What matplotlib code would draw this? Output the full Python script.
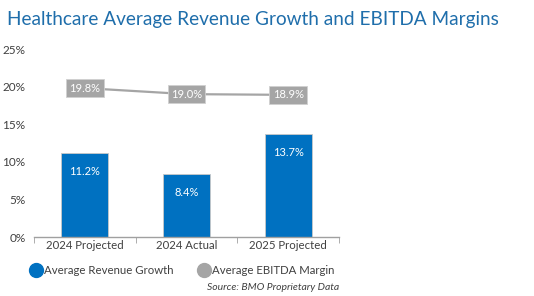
import matplotlib
matplotlib.use("Agg")
import matplotlib.pyplot as plt
from matplotlib.lines import Line2D

categories = ["2024 Projected", "2024 Actual", "2025 Projected"]
revenue_growth = [11.2, 8.4, 13.7]
ebitda_margin = [19.8, 19.0, 18.9]
yticks = [0, 5, 10, 15, 20, 25]

plt.rcParams['font.family'] = ['Lato', 'DejaVu Sans']
BLUE = "#0071c1"
GRAY = "#a5a5a5"
TXT = "#404040"

fig = plt.figure(figsize=(5.34, 2.96), dpi=100)
ax = fig.add_axes([34/534, 1 - 237/296, 305/534, (237-49)/296])

x = list(range(len(categories)))
ax.bar(x, revenue_growth, width=0.46, color=BLUE, edgecolor="#c8c8c8", linewidth=0.6, zorder=2)
ax.plot(x, ebitda_margin, color=GRAY, linewidth=1.6, zorder=3)

for xi, v in zip(x, revenue_growth):
    ax.text(xi, v - 2.5, f"{v:.1f}%", ha="center", va="center", color="white", fontsize=8, zorder=4)
for xi, v in zip(x, ebitda_margin):
    ax.text(xi, v, f"{v:.1f}%", ha="center", va="center", color="white", fontsize=8, zorder=5,
            bbox=dict(boxstyle="square,pad=0.3", fc=GRAY, ec="#d0d0d0", lw=0.6))

ax.set_xlim(-0.5, 2.5)
ax.set_ylim(0, 25)
ax.set_yticks(yticks)
ax.set_yticklabels([f"{t}%" for t in yticks], color=TXT, fontsize=8.5)
ax.tick_params(axis="y", length=0, pad=6)
ax.set_xticks(x)
ax.set_xticklabels(categories, color=TXT, fontsize=8.2)
ax.tick_params(axis="x", length=0, pad=2.5)
ax.set_xticks([-0.5, 0.5, 1.5, 2.5], minor=True)
ax.tick_params(axis="x", which="minor", length=4, color="#a0a0a0", direction="out")
for s in ["top", "right", "left"]:
    ax.spines[s].set_visible(False)
ax.spines["bottom"].set_color("#a0a0a0")
ax.spines["bottom"].set_linewidth(1.0)

fig.text(7/534, 1 - 19/296, "Healthcare Average Revenue Growth and EBITDA Margins",
         color="#1f6eab", fontsize=13.7, ha="left", va="center")

handles = [Line2D([], [], marker="o", linestyle="none", markersize=10, color=BLUE),
           Line2D([], [], marker="o", linestyle="none", markersize=10, color=GRAY)]
fig.legend(handles, ["Average Revenue Growth", "Average EBITDA Margin"], loc="center left",
           bbox_to_anchor=(18/534, 1 - 270/296), ncol=2, frameon=False, fontsize=8.2,
           labelcolor=TXT, handletextpad=0.1, columnspacing=2.0, handlelength=1.3)

fig.text(339/534, 1 - 288/296, "Source: BMO Proprietary Data", color=TXT, fontsize=7.5,
         style="italic", ha="right", va="center")

fig.savefig("out.png", dpi=100)
